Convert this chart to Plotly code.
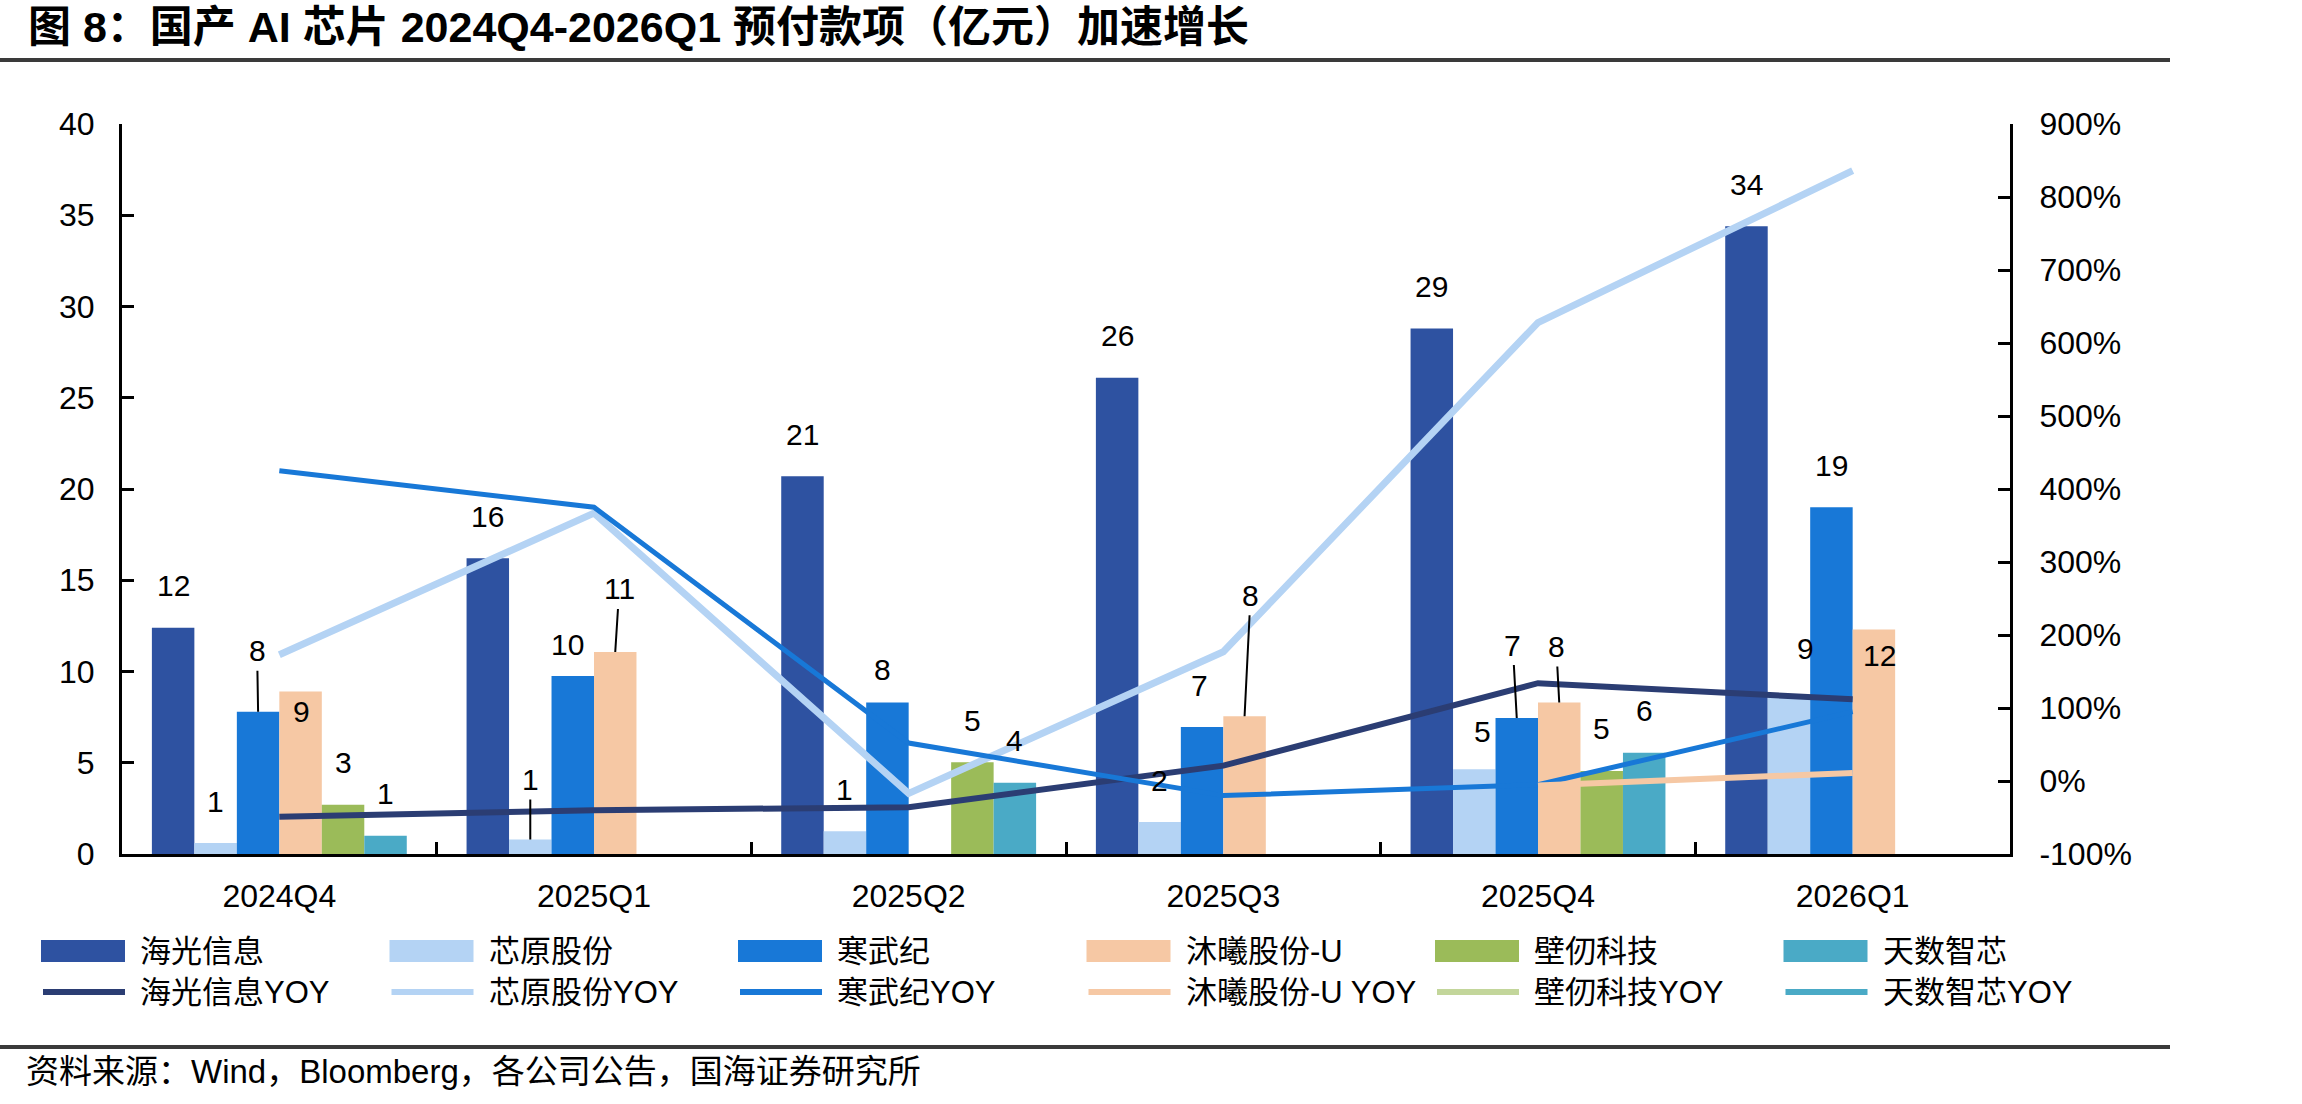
import plotly.graph_objects as go

# ---------------- data ----------------
categories = ["2024Q4", "2025Q1", "2025Q2", "2025Q3", "2025Q4", "2026Q1"]

bar_names = ["海光信息", "芯原股份", "寒武纪", "沐曦股份-U", "壁仞科技", "天数智芯"]
haiguang = [12.4, 16.2, 20.7, 26.1, 28.8, 34.4]
xinyuan = [0.6, 0.8, 1.25, 1.75, 4.65, 8.6]
hanwuji = [7.8, 9.75, 8.3, 6.96, 7.45, 19.0]
muxi = [8.9, 11.07, None, 7.55, 8.3, 12.3]
biren = [2.7, None, 5.03, None, 4.55, None]
tianshu = [1.0, None, 3.9, None, 5.55, None]

line_names = ["海光信息YOY", "芯原股份YOY", "寒武纪YOY", "沐曦股份-U YOY", "壁仞科技YOY", "天数智芯YOY"]
haiguang_yoy = [-49, -40, -36, 21, 134, 112]
xinyuan_yoy = [173, 367, -17, 177, 628, 836]
hanwuji_yoy = [425, 375, 52, -20, -5, 95]
muxi_yoy = [None, None, None, None, -6, 11]
biren_yoy = [None, None, None, None, None, None]
tianshu_yoy = [None, None, None, None, None, None]

left_ticks = [0, 5, 10, 15, 20, 25, 30, 35, 40]
right_ticks = [-100, 0, 100, 200, 300, 400, 500, 600, 700, 800, 900]
right_tick_labels = [f"{v}%" for v in right_ticks]

bar_values = [haiguang, xinyuan, hanwuji, muxi, biren, tianshu]
line_values = [haiguang_yoy, xinyuan_yoy, hanwuji_yoy, muxi_yoy, biren_yoy, tianshu_yoy]

# ---------------- styles ----------------
bar_colors = ["#2e52a1", "#b4d3f4", "#1878d7", "#f6c8a4", "#9bbb59", "#4aaac6"]
line_colors = ["#2b3d73", "#b4d3f4", "#1878d7", "#f6c8a4", "#c3d69b", "#4aaac6"]
line_widths = [6, 7, 5, 6, 6, 6]

W, H = 2302, 1104
L, R, T, B = 122, 292, 124, 250
PW = W - L - R
PH = H - T - B
CAT_W = PW / len(categories)
BARGAP = 0.19
BAR_W = CAT_W * (1 - BARGAP) / len(bar_names)

LATIN_CJK = "Liberation Sans, Arial, Noto Sans CJK SC"

# label placement overrides: (series, category) -> (dx px, dy px above top, leader)
label_style = {
    (2, 0): (-1, 61, True),
    (3, 0): (1, -20, False),
    (1, 1): (0, 60, True),
    (2, 1): (-5, 32, False),
    (3, 1): (4, 63, True),
    (2, 2): (-5, 33, False),
    (2, 3): (-3, 41, False),
    (3, 3): (6, 121, True),
    (1, 4): (8, 38, False),
    (2, 4): (-4, 73, True),
    (3, 4): (-3, 56, True),
    (1, 5): (17, 49, False),
    (3, 5): (6, -26, False),
}
DEFAULT_LABEL = (0, 42, False)


def xp(px):
    return (px - L) / PW


def yp(py):
    return (H - B - py) / PH


fig = go.Figure()

for name, vals, col in zip(bar_names, bar_values, bar_colors):
    fig.add_trace(go.Bar(
        x=categories, y=vals, name=name, marker=dict(color=col, line=dict(width=0)),
        showlegend=False, yaxis="y", hoverinfo="skip",
    ))

for name, vals, col, lw in zip(line_names, line_values, line_colors, line_widths):
    fig.add_trace(go.Scatter(
        x=categories, y=vals, name=name, mode="lines",
        line=dict(color=col, width=lw), yaxis="y2", showlegend=False,
        connectgaps=False, hoverinfo="skip",
    ))

annotations = []
LABEL_FONT = dict(family=LATIN_CJK, size=30, color="black")

# data labels
for si, vals in enumerate(bar_values):
    slot_shift = (si - (len(bar_names) - 1) / 2) * BAR_W
    for ci, v in enumerate(vals):
        if v is None:
            continue
        dx, dy, leader = label_style.get((si, ci), DEFAULT_LABEL)
        txt = f"{v:.0f}"
        if leader:
            annotations.append(dict(
                x=categories[ci], y=v, xref="x", yref="y", text=txt,
                showarrow=True, arrowhead=0, arrowwidth=2, arrowcolor="black",
                ax=dx, ay=-dy, xshift=slot_shift, standoff=0, startstandoff=2,
                font=LABEL_FONT,
            ))
        else:
            annotations.append(dict(
                x=categories[ci], y=v, xref="x", yref="y", text=txt,
                showarrow=False, xshift=slot_shift + dx, yshift=dy,
                xanchor="center", yanchor="middle", font=LABEL_FONT,
            ))

# title
annotations.append(dict(
    x=xp(26), y=yp(27), xref="paper", yref="paper", xanchor="left", yanchor="middle",
    text="<b>图 8：国产 AI 芯片 2024Q4-2026Q1 预付款项（亿元）加速增长</b>",
    showarrow=False, font=dict(family=LATIN_CJK, size=43, color="black"),
))
# source
annotations.append(dict(
    x=xp(24), y=yp(1071), xref="paper", yref="paper", xanchor="left", yanchor="middle",
    text="资料来源：Wind，Bloomberg，各公司公告，国海证券研究所",
    showarrow=False, font=dict(family=LATIN_CJK, size=33, color="black"),
))

shapes = []
# rules
for ry in (60, 1047):
    shapes.append(dict(type="line", xref="paper", yref="paper",
                       x0=xp(0), x1=xp(2170), y0=yp(ry), y1=yp(ry),
                       line=dict(color="#3a3a3a", width=4)))

# custom legend
LEG_X0 = 41
LEG_DX = 348.5
ROW_Y = [951, 992]
SYM_W = 84
LEG_FONT = dict(family=LATIN_CJK, size=31, color="black")
for i in range(6):
    x0 = LEG_X0 + i * LEG_DX
    shapes.append(dict(type="rect", xref="paper", yref="paper",
                       x0=xp(x0), x1=xp(x0 + SYM_W), y0=yp(ROW_Y[0] - 11), y1=yp(ROW_Y[0] + 11),
                       fillcolor=bar_colors[i], line=dict(width=0)))
    annotations.append(dict(x=xp(x0 + 97), y=yp(ROW_Y[0]), xref="paper", yref="paper",
                            xanchor="left", yanchor="middle", showarrow=False,
                            text=bar_names[i], font=LEG_FONT))
    shapes.append(dict(type="line", xref="paper", yref="paper",
                       x0=xp(x0 + 2), x1=xp(x0 + SYM_W), y0=yp(ROW_Y[1]), y1=yp(ROW_Y[1]),
                       line=dict(color=line_colors[i], width=6)))
    annotations.append(dict(x=xp(x0 + 97), y=yp(ROW_Y[1]), xref="paper", yref="paper",
                            xanchor="left", yanchor="middle", showarrow=False,
                            text=line_names[i], font=LEG_FONT))

axis_font = dict(family=LATIN_CJK, size=32, color="black")

fig.update_layout(
    width=W, height=H,
    margin=dict(l=L, r=R, t=T, b=B, autoexpand=False),
    paper_bgcolor="white", plot_bgcolor="white",
    barmode="group", bargap=BARGAP, bargroupgap=0,
    showlegend=False,
    xaxis=dict(
        type="category", categoryorder="array", categoryarray=categories,
        showline=True, linecolor="black", linewidth=3,
        ticks="inside", tickson="boundaries", ticklen=12, tickwidth=3, tickcolor="black",
        showgrid=False, zeroline=False, tickfont=axis_font, ticklabelstandoff=12,
    ),
    yaxis=dict(
        range=[0, 40], tickmode="array", tickvals=left_ticks,
        showline=True, linecolor="black", linewidth=3,
        ticks="inside", ticklen=12, tickwidth=3, tickcolor="black",
        showgrid=False, zeroline=False, tickfont=axis_font, ticklabelstandoff=18,
    ),
    yaxis2=dict(
        range=[-100, 900], tickmode="array", tickvals=right_ticks, ticktext=right_tick_labels,
        overlaying="y", side="right",
        showline=True, linecolor="black", linewidth=3,
        ticks="inside", ticklen=12, tickwidth=3, tickcolor="black",
        showgrid=False, zeroline=False, tickfont=axis_font, ticklabelstandoff=20,
    ),
    annotations=annotations,
    shapes=shapes,
)

fig.write_html("out.html")
